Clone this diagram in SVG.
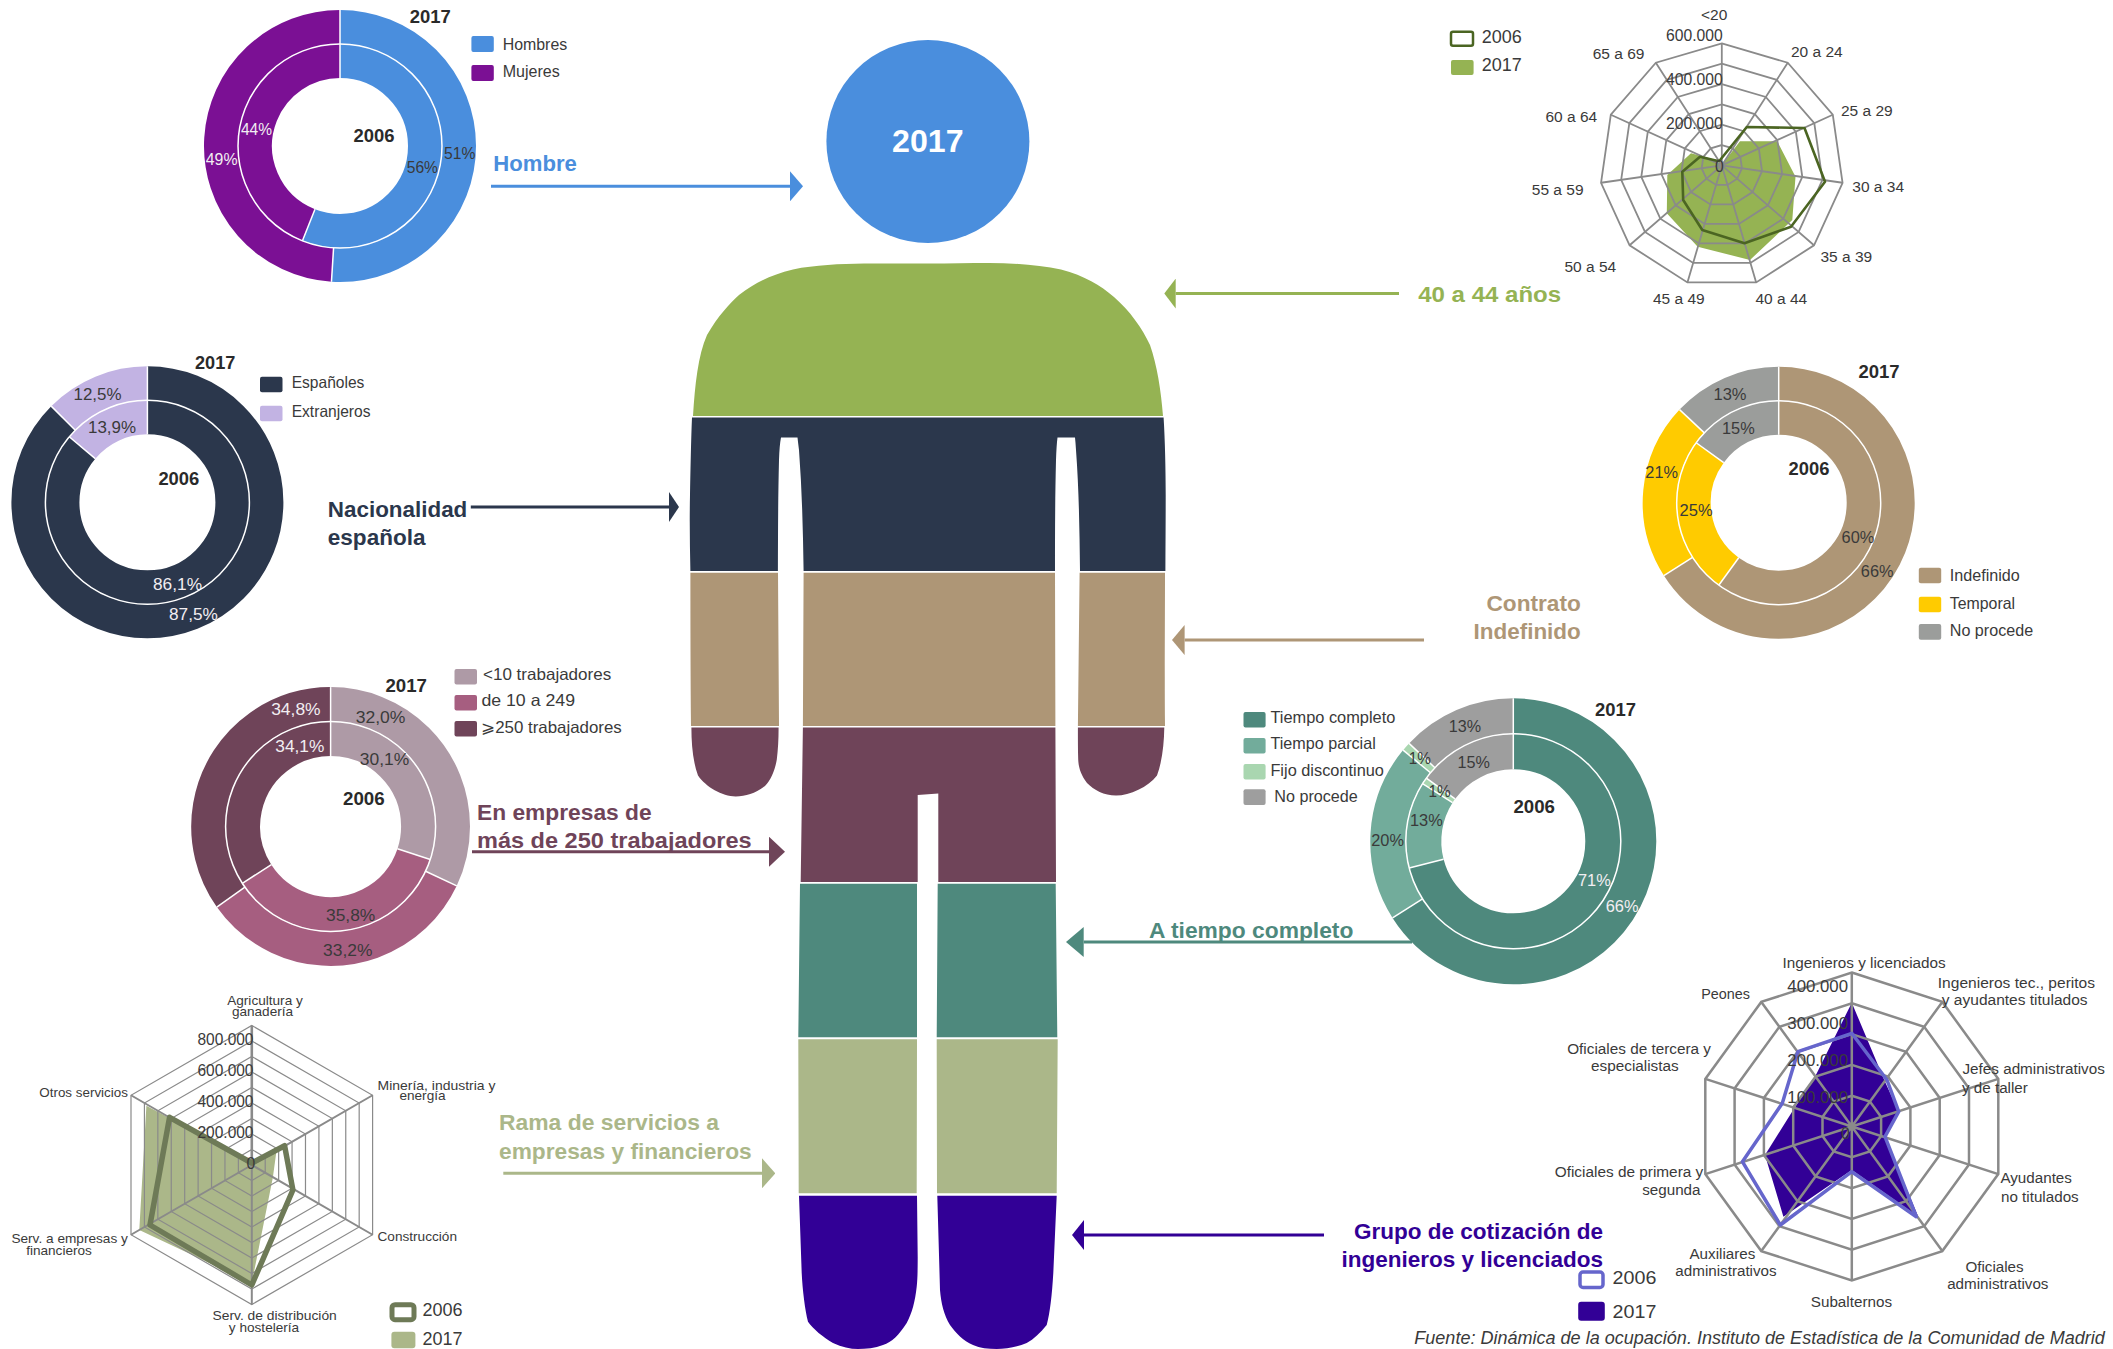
<svg xmlns="http://www.w3.org/2000/svg" xmlns:xlink="http://www.w3.org/1999/xlink" width="2113" height="1349" viewBox="0 0 2113 1349">
<style>
text{font-family:"Liberation Sans",Arial,sans-serif;fill:#3a3a3a;font-size:16.3px}
.y{font-weight:bold;fill:#2a2a2a;font-size:18.5px}
.w{fill:#f2eef2}
.l{font-size:16.5px}
.a{font-size:15.5px}
.s{font-size:13.6px}
.o{font-size:15.2px}
.v{font-size:15.7px}
.n{font-size:18px}
.h{font-weight:bold;font-size:22.5px}
.sep{stroke:#fff;stroke-width:1.5;fill:none}
.d{fill:none;stroke-width:34}
.d4o{fill:none;stroke-width:34.4}
.d5{fill:none;stroke-width:35.5}
.conn{fill:none;stroke-width:3}
.grid{fill:none;stroke:#8a8a8a}
#p11,#p6,#p10{vector-effect:non-scaling-stroke}
</style>
<defs>
<polygon id="p11" points="0,-122 65.95,-102.64 110.97,-50.68 120.76,17.36 92.2,79.9 34.37,117.06 -34.37,117.06 -92.2,79.9 -120.76,17.36 -110.97,-50.68 -65.95,-102.64"/>
<polygon id="p6" points="0,-139.5 120.8,-69.75 120.8,69.75 0,139.5 -120.8,69.75 -120.8,-69.75"/>
<polygon id="p10" points="0,-154 90.5,-124.6 146.5,-47.6 146.5,47.6 90.5,124.6 0,154 -90.5,124.6 -146.5,47.6 -146.5,-47.6 -90.5,-124.6"/>
<marker id="m1" markerUnits="userSpaceOnUse" markerWidth="13" markerHeight="30" refX="0" refY="15" orient="auto"><path d="M0 0L13 15L0 30Z" fill="#4a8edd"/></marker>
<marker id="m2" markerUnits="userSpaceOnUse" markerWidth="11.4" markerHeight="30" refX="0" refY="15" orient="auto"><path d="M0 0L11.4 15L0 30Z" fill="#95b353"/></marker>
<marker id="m3" markerUnits="userSpaceOnUse" markerWidth="10" markerHeight="30" refX="0" refY="15" orient="auto"><path d="M0 0L10 15L0 30Z" fill="#2b374c"/></marker>
<marker id="m4" markerUnits="userSpaceOnUse" markerWidth="12.6" markerHeight="30" refX="0" refY="15" orient="auto"><path d="M0 0L12.6 15L0 30Z" fill="#ae9676"/></marker>
<marker id="m5" markerUnits="userSpaceOnUse" markerWidth="16" markerHeight="30" refX="0" refY="15" orient="auto"><path d="M0 0L16 15L0 30Z" fill="#6f4459"/></marker>
<marker id="m6" markerUnits="userSpaceOnUse" markerWidth="17.7" markerHeight="30" refX="0" refY="15" orient="auto"><path d="M0 0L17.7 15L0 30Z" fill="#4e897d"/></marker>
<marker id="m7" markerUnits="userSpaceOnUse" markerWidth="13.3" markerHeight="30" refX="0" refY="15" orient="auto"><path d="M0 0L13.3 15L0 30Z" fill="#abb789"/></marker>
<marker id="m8" markerUnits="userSpaceOnUse" markerWidth="12" markerHeight="30" refX="0" refY="15" orient="auto"><path d="M0 0L12 15L0 30Z" fill="#320096"/></marker>
</defs>
<rect width="2113" height="1349" fill="#fff"/>

<g id="connectors">
<line class="conn" x1="491" y1="186.3" x2="790" y2="186.3" stroke="#4a8edd" marker-end="url(#m1)"/>
<line class="conn" x1="1399" y1="293.6" x2="1175.7" y2="293.6" stroke="#95b353" marker-end="url(#m2)"/>
<line class="conn" x1="470.8" y1="507" x2="669" y2="507" stroke="#2b374c" marker-end="url(#m3)"/>
<line class="conn" x1="1424" y1="640" x2="1184.6" y2="640" stroke="#ae9676" marker-end="url(#m4)"/>
<line class="conn" x1="472" y1="851.7" x2="769" y2="851.7" stroke="#6f4459" marker-end="url(#m5)"/>
<line class="conn" x1="1412" y1="942" x2="1083.7" y2="942" stroke="#4e897d" marker-end="url(#m6)"/>
<line class="conn" x1="503.3" y1="1173.3" x2="762" y2="1173.3" stroke="#abb789" marker-end="url(#m7)"/>
<line class="conn" x1="1324" y1="1235" x2="1084" y2="1235" stroke="#320096" marker-end="url(#m8)"/>
</g>

<g id="figure">
<g id="head"><circle cx="927.9" cy="141.5" r="101.5" fill="#4a8edd"/><text x="892" y="152" textLength="71.5" lengthAdjust="spacingAndGlyphs" style="font-weight:bold;font-size:32px;fill:#fff">2017</text></g>
<path id="band-age" fill="#95b353" d="M693,416 C695,385 698,355 707,335 C718,316 730,303 739,295 C755,283 770,275 793,269.5 C815,265 840,264 864,263.6 L928,263.6 C950,263.6 970,263 989,263 C1015,263 1040,265 1061,269.5 C1085,276 1100,285 1114,297 C1130,311 1142,328 1150,345 C1157,365 1161,390 1163,416 Z"/>
<path id="band-nationality" fill="#2b374c" d="M692,417.4 H1163.6 C1165,440 1165.7,470 1165.7,495 C1165.7,520 1165.5,545 1165.4,571 H1080 C1079.5,530 1079,490 1076,450 Q1075.5,442 1075,437.5 H1057.5 Q1056.5,445 1056,460 C1055,500 1055,535 1055,571 H803.6 C803,530 802,490 799,450 Q798,442 797.5,437.5 H781 Q779.5,445 779,460 C778,500 778,535 777.9,571 H690.4 C689.8,545 689.5,520 690,495 C690.5,470 691,440 692,417.4 Z"/>
<path id="band-contract" fill="#ae9676" d="M690.4,572.7 H778 L779,726 H691 C690.5,680 690.4,620 690.4,572.7Z M803.6,572.7 H1055 L1055.4,726 H802.9Z M1079.6,572.7 H1165 C1165,620 1164.5,680 1165,726 H1077.9Z"/>
<path id="band-company" fill="#6f4459" d="M691.4,727.6 H778.6 C778.6,740 778,750 776.8,759.6 C775,770 771,780 765,786 C756,793 746,796.4 735.7,796.4 C722,796.4 706,787 698,775.5 C693,762 691.4,745 691.4,727.6Z M1077.9,727.6 H1164.3 C1164,745 1162,762 1157,775.5 C1148,787 1130,795.6 1116,795.6 C1104,795.6 1094,790 1087,783 C1081,775 1078.6,768 1078.2,759.6 C1077.9,750 1077.9,740 1077.9,727.6Z M802.9,727.6 H1055.4 L1056,882 H938.3 V793.6 L917.7,795 V882 H800.7 Z"/>
<path id="band-time" fill="#4e897d" d="M800,883.7 H917 V1037.3 H798.3 Z M937.7,883.7 H1055.7 L1057.3,1037.3 H936.7 Z"/>
<path id="band-sector" fill="#abb789" d="M798.3,1039.3 H917 L916.7,1193.3 H798.7 Z M936.7,1039.3 H1057.7 L1056.7,1193.3 H937 Z"/>
<path id="band-group" fill="#320096" d="M799,1195.7 H917 L917.7,1256.7 C917.7,1270 917.5,1280 916.7,1286.7 C915,1302 912,1313 906.7,1323 C899,1335 892,1342 883,1345 C875,1348 866,1349 858,1349 C850,1349 842,1347 833,1343 C823,1337 813,1329 808,1321.7 C805,1310 802.5,1290 801.7,1273 Z M937.3,1195.7 H1056.7 L1053.3,1273 C1052,1295 1050,1313 1046.7,1325 C1040,1333 1034,1339 1026.7,1343 C1017,1347 1006,1349 996.7,1349 C988,1349 980,1348 973,1345 C963,1341 956,1333 950,1325 C944,1315 941,1303 940,1290 Z"/>
</g>

<g id="label-hombre"><text class="h" x="493.3" y="171" textLength="83.5" lengthAdjust="spacingAndGlyphs" style="fill:#4a8edd">Hombre</text></g>
<g id="label-edad"><text class="h" x="1418.2" y="301.7" textLength="143" lengthAdjust="spacingAndGlyphs" style="fill:#95b353">40 a 44 años</text></g>
<g id="label-nacionalidad"><text class="h" x="327.8" y="517.3" textLength="139.5" lengthAdjust="spacingAndGlyphs" style="fill:#2b374c">Nacionalidad</text><text class="h" x="327.8" y="545" textLength="97.7" lengthAdjust="spacingAndGlyphs" style="fill:#2b374c">española</text></g>
<g id="label-contrato"><text class="h" x="1486.5" y="610.7" textLength="94.3" lengthAdjust="spacingAndGlyphs" style="fill:#ae9676">Contrato</text><text class="h" x="1473.5" y="638.7" textLength="107.3" lengthAdjust="spacingAndGlyphs" style="fill:#ae9676">Indefinido</text></g>
<g id="label-empresas"><text class="h" x="477" y="820" textLength="174.6" lengthAdjust="spacingAndGlyphs" style="fill:#6f4459">En empresas de</text><text class="h" x="477" y="847.7" textLength="274.6" lengthAdjust="spacingAndGlyphs" style="fill:#6f4459">más de 250 trabajadores</text></g>
<g id="label-jornada"><text class="h" x="1149" y="937.7" textLength="204.4" lengthAdjust="spacingAndGlyphs" style="fill:#4e897d">A tiempo completo</text></g>
<g id="label-rama"><text class="h" x="499" y="1130.3" textLength="220" lengthAdjust="spacingAndGlyphs" style="fill:#abb789">Rama de servicios a</text><text class="h" x="499" y="1158.7" textLength="252.7" lengthAdjust="spacingAndGlyphs" style="fill:#abb789">empresas y financieros</text></g>
<g id="label-grupo"><text class="h" x="1354" y="1239.3" textLength="249" lengthAdjust="spacingAndGlyphs" style="fill:#320096">Grupo de cotización de</text><text class="h" x="1341.4" y="1266.7" textLength="261.6" lengthAdjust="spacingAndGlyphs" style="fill:#320096">ingenieros y licenciados</text></g>

<g id="donut-sexo">
<g transform="translate(340 146)">
<circle class="d" r="119" pathLength="100" stroke="#4a8edd" stroke-dasharray="51 49" transform="rotate(-90)"/>
<circle class="d" r="119" pathLength="100" stroke="#7b1094" stroke-dasharray="49 51" transform="rotate(93.6)"/>
<circle class="d" r="85" pathLength="100" stroke="#4a8edd" stroke-dasharray="56 44" transform="rotate(-90)"/>
<circle class="d" r="85" pathLength="100" stroke="#7b1094" stroke-dasharray="44 56" transform="rotate(111.6)"/>
<circle class="sep" r="102"/>
<line class="sep" y1="-136" y2="-68"/>
<line class="sep" y1="-136" y2="-102" transform="rotate(183.6)"/>
<line class="sep" y1="-102" y2="-68" transform="rotate(201.6)"/>
</g>
<text class="y" x="409.8" y="22.7" textLength="41" lengthAdjust="spacingAndGlyphs">2017</text>
<text class="y" x="353.6" y="142.3" textLength="41" lengthAdjust="spacingAndGlyphs">2006</text>
<text x="444" y="159.3" textLength="31.4" lengthAdjust="spacingAndGlyphs">51%</text>
<text x="406.7" y="173" textLength="31.3" lengthAdjust="spacingAndGlyphs">56%</text>
<text class="w" x="241" y="135" textLength="31" lengthAdjust="spacingAndGlyphs">44%</text>
<text class="w" x="205.8" y="165.3" textLength="31.7" lengthAdjust="spacingAndGlyphs">49%</text>
<rect x="471.4" y="36" width="22.4" height="16" rx="2" fill="#4a8edd"/>
<rect x="471.4" y="65" width="22.4" height="16" rx="2" fill="#7b1094"/>
<text class="l" x="502.7" y="50" textLength="64.5" lengthAdjust="spacingAndGlyphs">Hombres</text>
<text class="l" x="502.7" y="77.3" textLength="57" lengthAdjust="spacingAndGlyphs">Mujeres</text>
</g>

<g id="donut-nacionalidad">
<g transform="translate(147.4 502.3)">
<circle class="d" r="119" pathLength="100" stroke="#2b374c" stroke-dasharray="87.5 12.5" transform="rotate(-90)"/>
<circle class="d" r="119" pathLength="100" stroke="#c2b3e3" stroke-dasharray="12.5 87.5" transform="rotate(225)"/>
<circle class="d" r="85" pathLength="100" stroke="#2b374c" stroke-dasharray="86.1 13.9" transform="rotate(-90)"/>
<circle class="d" r="85" pathLength="100" stroke="#c2b3e3" stroke-dasharray="13.9 86.1" transform="rotate(219.96)"/>
<circle class="sep" r="102"/>
<line class="sep" y1="-136" y2="-68"/>
<line class="sep" y1="-136" y2="-102" transform="rotate(315)"/>
<line class="sep" y1="-102" y2="-68" transform="rotate(309.96)"/>
</g>
<text class="y" x="195" y="369" textLength="40.3" lengthAdjust="spacingAndGlyphs">2017</text>
<text class="y" x="158.4" y="485" textLength="40.9" lengthAdjust="spacingAndGlyphs">2006</text>
<text x="73.5" y="400" textLength="48" lengthAdjust="spacingAndGlyphs">12,5%</text>
<text x="88" y="433.3" textLength="48" lengthAdjust="spacingAndGlyphs">13,9%</text>
<text class="w" x="153" y="590" textLength="49" lengthAdjust="spacingAndGlyphs">86,1%</text>
<text class="w" x="169" y="620" textLength="48.8" lengthAdjust="spacingAndGlyphs">87,5%</text>
<rect x="260" y="376.7" width="22.5" height="15.6" rx="2" fill="#2b374c"/>
<rect x="260" y="405.7" width="22.5" height="15.6" rx="2" fill="#c2b3e3"/>
<text class="l" x="291.7" y="388.3" textLength="72.7" lengthAdjust="spacingAndGlyphs">Españoles</text>
<text class="l" x="291.7" y="417" textLength="78.8" lengthAdjust="spacingAndGlyphs">Extranjeros</text>
</g>

<g id="donut-contrato">
<g transform="translate(1778.7 502.7)">
<circle class="d" r="119" pathLength="100" stroke="#ae9676" stroke-dasharray="66 34" transform="rotate(-90)"/>
<circle class="d" r="119" pathLength="100" stroke="#ffcb00" stroke-dasharray="21 79" transform="rotate(147.6)"/>
<circle class="d" r="119" pathLength="100" stroke="#9b9d9b" stroke-dasharray="13 87" transform="rotate(223.2)"/>
<circle class="d" r="85" pathLength="100" stroke="#ae9676" stroke-dasharray="60 40" transform="rotate(-90)"/>
<circle class="d" r="85" pathLength="100" stroke="#ffcb00" stroke-dasharray="25 75" transform="rotate(126)"/>
<circle class="d" r="85" pathLength="100" stroke="#9b9d9b" stroke-dasharray="15 85" transform="rotate(216)"/>
<circle class="sep" r="102"/>
<line class="sep" y1="-136" y2="-68"/>
<line class="sep" y1="-136" y2="-102" transform="rotate(237.6)"/>
<line class="sep" y1="-136" y2="-102" transform="rotate(313.2)"/>
<line class="sep" y1="-102" y2="-68" transform="rotate(216)"/>
<line class="sep" y1="-102" y2="-68" transform="rotate(306)"/>
</g>
<text class="y" x="1858.4" y="377.7" textLength="41.2" lengthAdjust="spacingAndGlyphs">2017</text>
<text class="y" x="1788.6" y="475" textLength="40.8" lengthAdjust="spacingAndGlyphs">2006</text>
<text x="1713.5" y="400" textLength="33" lengthAdjust="spacingAndGlyphs">13%</text>
<text x="1722" y="434" textLength="32.7" lengthAdjust="spacingAndGlyphs">15%</text>
<text x="1645.3" y="478.3" textLength="32.7" lengthAdjust="spacingAndGlyphs">21%</text>
<text x="1679.6" y="516.3" textLength="33.1" lengthAdjust="spacingAndGlyphs">25%</text>
<text x="1841.6" y="543.3" textLength="32.7" lengthAdjust="spacingAndGlyphs">60%</text>
<text x="1860.8" y="577.3" textLength="32.7" lengthAdjust="spacingAndGlyphs">66%</text>
<rect x="1918.8" y="567.7" width="22.4" height="15.6" rx="2" fill="#ae9676"/>
<rect x="1918.8" y="596.7" width="22.4" height="15.6" rx="2" fill="#ffcb00"/>
<rect x="1918.8" y="624" width="22.4" height="15.7" rx="2" fill="#9b9d9b"/>
<text class="l" x="1949.8" y="581.3" textLength="70" lengthAdjust="spacingAndGlyphs">Indefinido</text>
<text class="l" x="1949.8" y="609.3" textLength="65.3" lengthAdjust="spacingAndGlyphs">Temporal</text>
<text class="l" x="1949.8" y="636" textLength="83.3" lengthAdjust="spacingAndGlyphs">No procede</text>
</g>

<g id="donut-empresas">
<g transform="translate(330.6 826.5)">
<circle class="d4o" r="122.2" pathLength="100" stroke="#ae9aa6" stroke-dasharray="32 68" transform="rotate(-90)"/>
<circle class="d4o" r="122.2" pathLength="100" stroke="#a65e80" stroke-dasharray="33.2 66.8" transform="rotate(25.2)"/>
<circle class="d4o" r="122.2" pathLength="100" stroke="#6f4459" stroke-dasharray="34.8 65.2" transform="rotate(144.72)"/>
<circle class="d4o" r="87.7" pathLength="100" stroke="#ae9aa6" stroke-dasharray="30.1 69.9" transform="rotate(-90)"/>
<circle class="d4o" r="87.7" pathLength="100" stroke="#a65e80" stroke-dasharray="35.8 64.2" transform="rotate(18.36)"/>
<circle class="d4o" r="87.7" pathLength="100" stroke="#6f4459" stroke-dasharray="34.1 65.9" transform="rotate(147.24)"/>
<circle class="sep" r="105"/>
<line class="sep" y1="-139.4" y2="-70.4"/>
<line class="sep" y1="-139.4" y2="-105" transform="rotate(115.2)"/>
<line class="sep" y1="-139.4" y2="-105" transform="rotate(234.72)"/>
<line class="sep" y1="-105" y2="-70.4" transform="rotate(108.36)"/>
<line class="sep" y1="-105" y2="-70.4" transform="rotate(237.24)"/>
</g>
<text class="y" x="385.5" y="692.3" textLength="41.5" lengthAdjust="spacingAndGlyphs">2017</text>
<text class="y" x="343" y="805" textLength="41.7" lengthAdjust="spacingAndGlyphs">2006</text>
<text class="w" x="271.2" y="715" textLength="49.4" lengthAdjust="spacingAndGlyphs">34,8%</text>
<text x="355.7" y="723" textLength="49.8" lengthAdjust="spacingAndGlyphs">32,0%</text>
<text class="w" x="275.3" y="752.3" textLength="49" lengthAdjust="spacingAndGlyphs">34,1%</text>
<text x="359.8" y="765.3" textLength="49.4" lengthAdjust="spacingAndGlyphs">30,1%</text>
<text x="326" y="921" textLength="49.3" lengthAdjust="spacingAndGlyphs">35,8%</text>
<text x="323" y="956" textLength="49.4" lengthAdjust="spacingAndGlyphs">33,2%</text>
<rect x="454.5" y="669" width="22.5" height="15.4" rx="2" fill="#ae9aa6"/>
<rect x="454.5" y="695" width="22.5" height="15.6" rx="2" fill="#a65e80"/>
<rect x="454.5" y="721" width="22.5" height="15.6" rx="2" fill="#6f4459"/>
<text class="l" x="483" y="680" textLength="128.2" lengthAdjust="spacingAndGlyphs">&lt;10 trabajadores</text>
<text class="l" x="481.4" y="706" textLength="93.6" lengthAdjust="spacingAndGlyphs">de 10 a 249</text>
<text class="l" x="481" y="732.7" textLength="140.8" lengthAdjust="spacingAndGlyphs"><tspan style="font-family:'DejaVu Sans',sans-serif">⩾</tspan>250 trabajadores</text>
</g>

<g id="donut-jornada">
<g transform="translate(1513.3 841.3)">
<circle class="d5" r="125.25" pathLength="100" stroke="#4e897d" stroke-dasharray="66 34" transform="rotate(-90)"/>
<circle class="d5" r="125.25" pathLength="100" stroke="#72ac9b" stroke-dasharray="20 80" transform="rotate(147.6)"/>
<circle class="d5" r="125.25" pathLength="100" stroke="#a9d6b0" stroke-dasharray="1 99" transform="rotate(219.6)"/>
<circle class="d5" r="125.25" pathLength="100" stroke="#9e9e9e" stroke-dasharray="13 87" transform="rotate(223.2)"/>
<circle class="d5" r="89.75" pathLength="100" stroke="#4e897d" stroke-dasharray="71 29" transform="rotate(-90)"/>
<circle class="d5" r="89.75" pathLength="100" stroke="#72ac9b" stroke-dasharray="13 87" transform="rotate(165.6)"/>
<circle class="d5" r="89.75" pathLength="100" stroke="#a9d6b0" stroke-dasharray="1 99" transform="rotate(212.4)"/>
<circle class="d5" r="89.75" pathLength="100" stroke="#9e9e9e" stroke-dasharray="15 85" transform="rotate(216)"/>
<circle class="sep" r="107.5"/>
<line class="sep" y1="-143" y2="-72"/>
<line class="sep" y1="-143" y2="-107.5" transform="rotate(237.6)"/>
<line class="sep" y1="-143" y2="-107.5" transform="rotate(309.6)"/>
<line class="sep" y1="-143" y2="-107.5" transform="rotate(313.2)"/>
<line class="sep" y1="-107.5" y2="-72" transform="rotate(255.6)"/>
<line class="sep" y1="-107.5" y2="-72" transform="rotate(302.4)"/>
<line class="sep" y1="-107.5" y2="-72" transform="rotate(306)"/>
</g>
<text class="y" x="1595" y="716" textLength="41" lengthAdjust="spacingAndGlyphs">2017</text>
<text class="y" x="1513.5" y="813.3" textLength="41.5" lengthAdjust="spacingAndGlyphs">2006</text>
<text x="1448.7" y="731.7" textLength="32.3" lengthAdjust="spacingAndGlyphs">13%</text>
<text x="1457.4" y="767.7" textLength="32.4" lengthAdjust="spacingAndGlyphs">15%</text>
<text x="1408.8" y="764.3" textLength="22.2" lengthAdjust="spacingAndGlyphs">1%</text>
<text x="1428.5" y="797" textLength="22.2" lengthAdjust="spacingAndGlyphs">1%</text>
<text x="1410" y="825.7" textLength="32.8" lengthAdjust="spacingAndGlyphs">13%</text>
<text x="1371.2" y="846.3" textLength="32.8" lengthAdjust="spacingAndGlyphs">20%</text>
<text class="w" x="1578" y="885.7" textLength="32.8" lengthAdjust="spacingAndGlyphs">71%</text>
<text class="w" x="1605.7" y="911.7" textLength="32.8" lengthAdjust="spacingAndGlyphs">66%</text>
<rect x="1243.5" y="712" width="22.1" height="15.4" rx="2" fill="#4e897d"/>
<rect x="1243.5" y="738" width="22.1" height="15.4" rx="2" fill="#72ac9b"/>
<rect x="1243.5" y="764" width="22.1" height="15.4" rx="2" fill="#a9d6b0"/>
<rect x="1243.5" y="789.3" width="22.1" height="15.6" rx="2" fill="#9e9e9e"/>
<text class="l" x="1270.4" y="723.3" textLength="125" lengthAdjust="spacingAndGlyphs">Tiempo completo</text>
<text class="l" x="1270.4" y="749.3" textLength="105.4" lengthAdjust="spacingAndGlyphs">Tiempo parcial</text>
<text class="l" x="1270.4" y="775.7" textLength="113.5" lengthAdjust="spacingAndGlyphs">Fijo discontinuo</text>
<text class="l" x="1274.3" y="802" textLength="83.5" lengthAdjust="spacingAndGlyphs">No procede</text>
</g>

<g id="radar-edad">
<polygon fill="#95b353" points="1721.8,165 1740,141.3 1777.3,141.3 1795.5,176.7 1792.3,220 1750,260 1697.7,246.7 1666.8,213.3 1667.3,175 1691,153.3 1716,160"/>
<g transform="translate(1721.8 165.4)" class="grid" stroke-width="1.8">
<path d="M0 0L0,-122M0 0L65.95,-102.64M0 0L110.97,-50.68M0 0L120.76,17.36M0 0L92.2,79.9M0 0L34.37,117.06M0 0L-34.37,117.06M0 0L-92.2,79.9M0 0L-120.76,17.36M0 0L-110.97,-50.68M0 0L-65.95,-102.64"/>
<use href="#p11"/>
<use href="#p11" transform="scale(.8333)"/>
<use href="#p11" transform="scale(.6667)"/>
<use href="#p11" transform="scale(.5)"/>
<use href="#p11" transform="scale(.3333)"/>
<use href="#p11" transform="scale(.1667)"/>
</g>
<polygon fill="none" stroke="#4b6522" stroke-width="2.6" stroke-linejoin="round" points="1719.5,160.7 1746.8,127 1804.5,128 1825,181.7 1791,226.7 1744.5,243.3 1702.3,230 1683.2,200 1682.3,171.7 1700,156.7 1716.8,160.7"/>
<text class="a" x="1701" y="20">&lt;20</text>
<text class="v" x="1666" y="41.3" textLength="56.7" lengthAdjust="spacingAndGlyphs">600.000</text>
<text class="v" x="1666" y="85.3" textLength="56.7" lengthAdjust="spacingAndGlyphs">400.000</text>
<text class="v" x="1666" y="129.3" textLength="56.7" lengthAdjust="spacingAndGlyphs">200.000</text>
<text class="v" x="1715" y="172">0</text>
<text class="a" x="1791" y="57.3">20 a 24</text>
<text class="a" x="1841" y="116.3">25 a 29</text>
<text class="a" x="1852.3" y="192.3">30 a 34</text>
<text class="a" x="1820.5" y="262">35 a 39</text>
<text class="a" x="1755.5" y="304">40 a 44</text>
<text class="a" x="1653" y="304">45 a 49</text>
<text class="a" x="1564.5" y="272">50 a 54</text>
<text class="a" x="1531.8" y="195">55 a 59</text>
<text class="a" x="1545.5" y="122.3">60 a 64</text>
<text class="a" x="1592.7" y="59">65 a 69</text>
<rect x="1451" y="31.7" width="22" height="14" rx="2" fill="#fff" stroke="#4b6522" stroke-width="2.5"/>
<rect x="1451" y="60" width="22.6" height="15" rx="2" fill="#95b353"/>
<text class="n" x="1481.8" y="43.3">2006</text>
<text class="n" x="1481.8" y="71">2017</text>
</g>

<g id="radar-rama">
<polygon fill="#abb789" points="251.8,1162 276.5,1150.8 272.9,1177.2 251.8,1283 139.3,1230 146.4,1105.7"/>
<g transform="translate(251.8 1165)" class="grid" stroke-width="1.2">
<use href="#p6"/>
<use href="#p6" transform="scale(.8889)"/>
<use href="#p6" transform="scale(.7778)"/>
<use href="#p6" transform="scale(.6667)"/>
<use href="#p6" transform="scale(.5556)"/>
<use href="#p6" transform="scale(.4444)"/>
<use href="#p6" transform="scale(.3333)"/>
<use href="#p6" transform="scale(.2222)"/>
<use href="#p6" transform="scale(.1111)"/>
<path stroke-width="2" d="M0 0L120.8,-69.75M0 0L120.8,69.75M0 0L0,139.5M0 0L-120.8,69.75M0 0L-120.8,-69.75"/>
<path stroke-width="2.6" d="M0 0L0,-139.5"/>
</g>
<polygon fill="none" stroke="#6e7a57" stroke-width="5.5" stroke-linejoin="round" points="251.8,1163 284.6,1145.7 292.9,1190 251.8,1285 150,1225 169.6,1117.3"/>
<text class="s" x="265" y="1004.7" text-anchor="middle">Agricultura y</text>
<text class="s" x="262.5" y="1015.7" text-anchor="middle">ganadería</text>
<text class="s" x="377.5" y="1090" textLength="117.9" lengthAdjust="spacingAndGlyphs">Minería, industria y</text>
<text class="s" x="422.5" y="1100" text-anchor="middle">energía</text>
<text class="s" x="377.5" y="1241" textLength="79.5" lengthAdjust="spacingAndGlyphs">Construcción</text>
<text class="s" x="212.5" y="1320" textLength="124.3" lengthAdjust="spacingAndGlyphs">Serv. de distribución</text>
<text class="s" x="264" y="1331.7" text-anchor="middle">y hostelería</text>
<text class="s" x="11.4" y="1242.7" textLength="116.5" lengthAdjust="spacingAndGlyphs">Serv. a empresas y</text>
<text class="s" x="59" y="1255" text-anchor="middle">financieros</text>
<text class="s" x="39.3" y="1097" textLength="88.6" lengthAdjust="spacingAndGlyphs">Otros servicios</text>
<text class="v" x="197.5" y="1045.3" textLength="56" lengthAdjust="spacingAndGlyphs">800.000</text>
<text class="v" x="197.5" y="1076" textLength="56" lengthAdjust="spacingAndGlyphs">600.000</text>
<text class="v" x="197.5" y="1107" textLength="56" lengthAdjust="spacingAndGlyphs">400.000</text>
<text class="v" x="197.5" y="1138.3" textLength="56" lengthAdjust="spacingAndGlyphs">200.000</text>
<text class="v" x="246.4" y="1169">0</text>
<rect x="392" y="1304.7" width="22" height="15" rx="3" fill="#fff" stroke="#6e7a57" stroke-width="5"/>
<rect x="391.4" y="1331.7" width="24" height="16.6" rx="3" fill="#abb789"/>
<text class="n" x="422.5" y="1316">2006</text>
<text class="n" x="422.5" y="1345">2017</text>
</g>

<g id="radar-grupo">
<polygon fill="#320096" points="1851.8,1002.7 1885,1081.7 1898.7,1111.7 1885,1136.7 1918.3,1216.7 1851.8,1170 1783.4,1216.7 1765,1155 1793.2,1110 1815.9,1075"/>
<g transform="translate(1851.8 1126.5)" class="grid" stroke-width="2.5">
<path d="M0 0L0,-154M0 0L90.5,-124.6M0 0L146.5,-47.6M0 0L146.5,47.6M0 0L90.5,124.6M0 0L0,154M0 0L-90.5,124.6M0 0L-146.5,47.6M0 0L-146.5,-47.6M0 0L-90.5,-124.6"/>
<use href="#p10"/>
<use href="#p10" transform="scale(.8)"/>
<use href="#p10" transform="scale(.6)"/>
<use href="#p10" transform="scale(.4)"/>
<use href="#p10" transform="scale(.2)"/>
</g>
<polygon fill="none" stroke="#6666cc" stroke-width="3.5" stroke-linejoin="round" points="1851.8,1033.3 1887,1080 1898.7,1111.7 1885,1136.7 1916.3,1216.7 1851.8,1171.7 1780.3,1225 1742.4,1161.7 1782.3,1103.3 1797.9,1051.7"/>
<text class="o" x="1782.6" y="968" textLength="163.1" lengthAdjust="spacingAndGlyphs">Ingenieros y licenciados</text>
<text class="o" x="1937.8" y="988.3" textLength="157.2" lengthAdjust="spacingAndGlyphs">Ingenieros tec., peritos</text>
<text class="o" x="1941.8" y="1005" textLength="145.8" lengthAdjust="spacingAndGlyphs">y ayudantes titulados</text>
<text class="o" x="1962.5" y="1074" textLength="142.3" lengthAdjust="spacingAndGlyphs">Jefes administrativos</text>
<text class="o" x="1962" y="1092.7">y de taller</text>
<text class="o" x="2000.4" y="1183.3">Ayudantes</text>
<text class="o" x="2001" y="1202.3">no titulados</text>
<text class="o" x="1994.5" y="1272.3" text-anchor="middle">Oficiales</text>
<text class="o" x="1997.8" y="1289" text-anchor="middle">administrativos</text>
<text class="o" x="1810.8" y="1307.3" textLength="81.2" lengthAdjust="spacingAndGlyphs">Subalternos</text>
<text class="o" x="1722.4" y="1259.3" text-anchor="middle">Auxiliares</text>
<text class="o" x="1726" y="1276" text-anchor="middle">administrativos</text>
<text class="o" x="1554.7" y="1177.3" textLength="148.6" lengthAdjust="spacingAndGlyphs">Oficiales de primera y</text>
<text class="o" x="1700.5" y="1195" text-anchor="end">segunda</text>
<text class="o" x="1567.2" y="1054.3" textLength="143.8" lengthAdjust="spacingAndGlyphs">Oficiales de tercera y</text>
<text class="o" x="1591" y="1071" textLength="87.7" lengthAdjust="spacingAndGlyphs">especialistas</text>
<text class="o" x="1701.3" y="999" textLength="48.7" lengthAdjust="spacingAndGlyphs">Peones</text>
<text class="v" x="1787.3" y="991.7" textLength="60.7" lengthAdjust="spacingAndGlyphs">400.000</text>
<text class="v" x="1787.3" y="1029" textLength="60.7" lengthAdjust="spacingAndGlyphs">300.000</text>
<text class="v" x="1787.3" y="1066" textLength="60.7" lengthAdjust="spacingAndGlyphs">200.000</text>
<text class="v" x="1787.3" y="1102.7" textLength="60.7" lengthAdjust="spacingAndGlyphs">100.000</text>
<text class="v" x="1841" y="1139.3">0</text>
<rect x="1580" y="1272" width="23" height="15.4" rx="3" fill="#fff" stroke="#6666cc" stroke-width="3.5"/>
<rect x="1578.2" y="1301.7" width="26.6" height="19" rx="3" fill="#320096"/>
<text class="n" x="1612.6" y="1284.3" textLength="43.8" lengthAdjust="spacingAndGlyphs">2006</text>
<text class="n" x="1612.6" y="1317.7" textLength="43.8" lengthAdjust="spacingAndGlyphs">2017</text>
</g>

<text x="1414.3" y="1344.3" textLength="690.5" lengthAdjust="spacingAndGlyphs" style="font-style:italic;font-size:18px">Fuente: Dinámica de la ocupación. Instituto de Estadística de la Comunidad de Madrid</text>
</svg>
